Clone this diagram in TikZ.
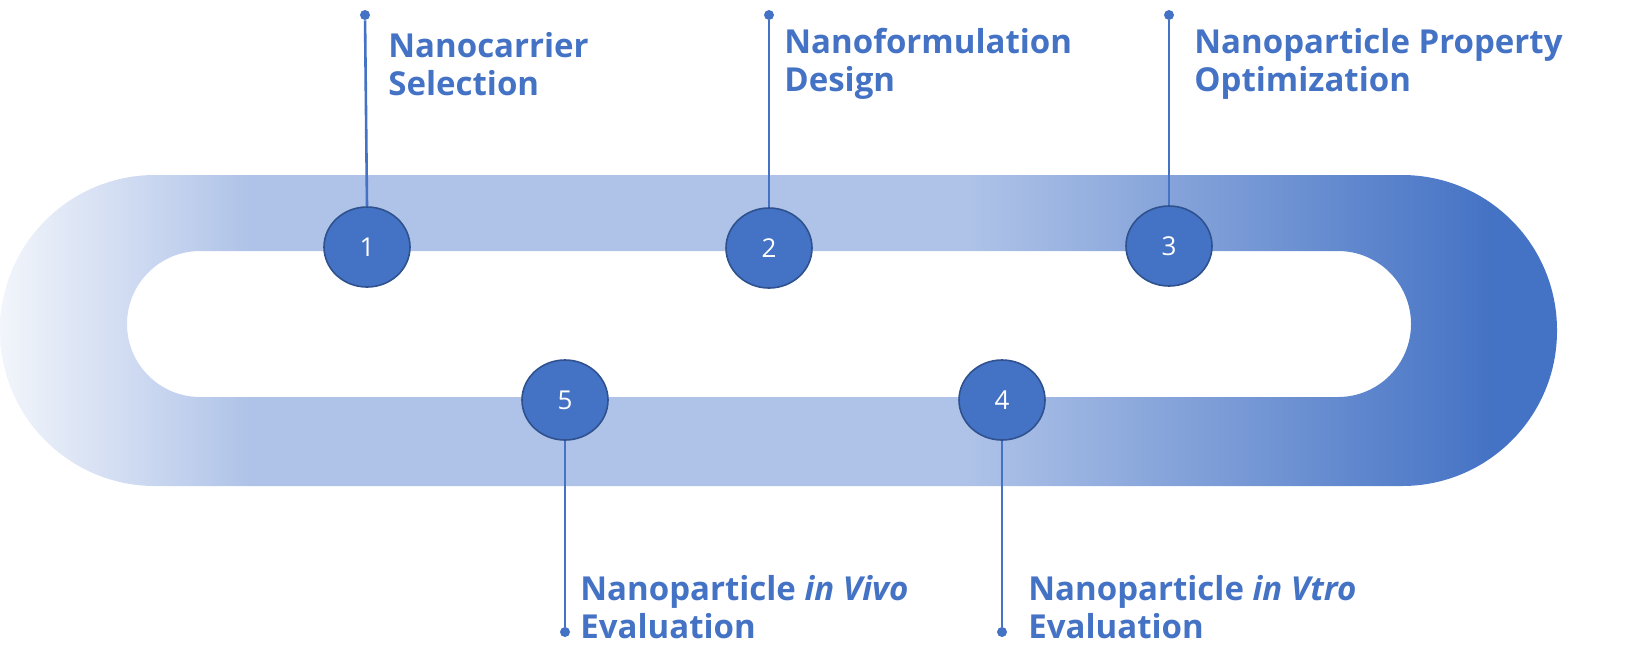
\documentclass[tikz,border=0pt]{standalone}
\usepackage{fontspec}
\setmainfont{Open Sans}
\usetikzlibrary{shapes.geometric}
\definecolor{mb}{HTML}{4472C4}
\definecolor{lb}{HTML}{AFC3E8}
\definecolor{wb}{HTML}{F2F5FB}
\definecolor{db}{HTML}{2F528F}
\pgfdeclarehorizontalshading{ring}{100bp}{color(0bp)=(wb); color(25bp)=(wb); color(33bp)=(lb); color(56bp)=(lb); color(73bp)=(mb); color(100bp)=(mb)}
\tikzset{
 num/.style={ellipse, draw=db, line width=0.8pt, fill=mb, minimum width=43pt, minimum height=40pt, inner sep=0pt, text=white, font=\fontsize{13}{15}\selectfont},
 lbl/.style={text=mb, font=\bfseries\fontsize{16.5}{19}\selectfont, align=left, anchor=west, inner sep=0pt},
 conn/.style={draw=mb, line width=1.3pt},
 dot/.style={circle, fill=mb, inner sep=0pt, minimum size=5pt}
}
\begin{document}
\begin{tikzpicture}[x=0.5pt,y=-0.5pt]
\useasboundingbox (0,0) rectangle (1637,649);
\shade[shading=ring, even odd rule]
 [rounded corners=77.5pt] (0,175) rectangle (1557,486)
 [rounded corners=36.5pt] (127,251) rectangle (1411,397);
\node[dot] (d1) at (365,15) {};
\node[dot] (d2) at (769,15) {};
\node[dot] (d3) at (1169,15) {};
\node[dot] (d5) at (565,632) {};
\node[dot] (d4) at (1002,632) {};
\node[num] (n1) at (367,247) {1};
\node[num] (n2) at (769,248) {2};
\node[num] (n3) at (1169,246) {3};
\node[num] (n5) at (565,400) {5};
\node[num] (n4) at (1002,400) {4};
\draw[conn] (d1) -- (n1.north);
\draw[conn] (d2) -- (n2.north);
\draw[conn] (d3) -- (n3.north);
\draw[conn] (d5) -- (n5.south);
\draw[conn] (d4) -- (n4.south);
\node[lbl] (t1) at (388,64) {Nanocarrier\\Selection};
\node[lbl] (t2) at (784,64) {Nanoformulation\\Design};
\node[lbl] (t3) at (1194,64) {Nanoparticle Property\\Optimization};
\node[lbl] (t5) at (580,607) {Nanoparticle \textit{in Vivo}\\Evaluation};
\node[lbl] (t4) at (1028,607) {Nanoparticle \textit{in Vtro}\\Evaluation};
\end{tikzpicture}
\end{document}
